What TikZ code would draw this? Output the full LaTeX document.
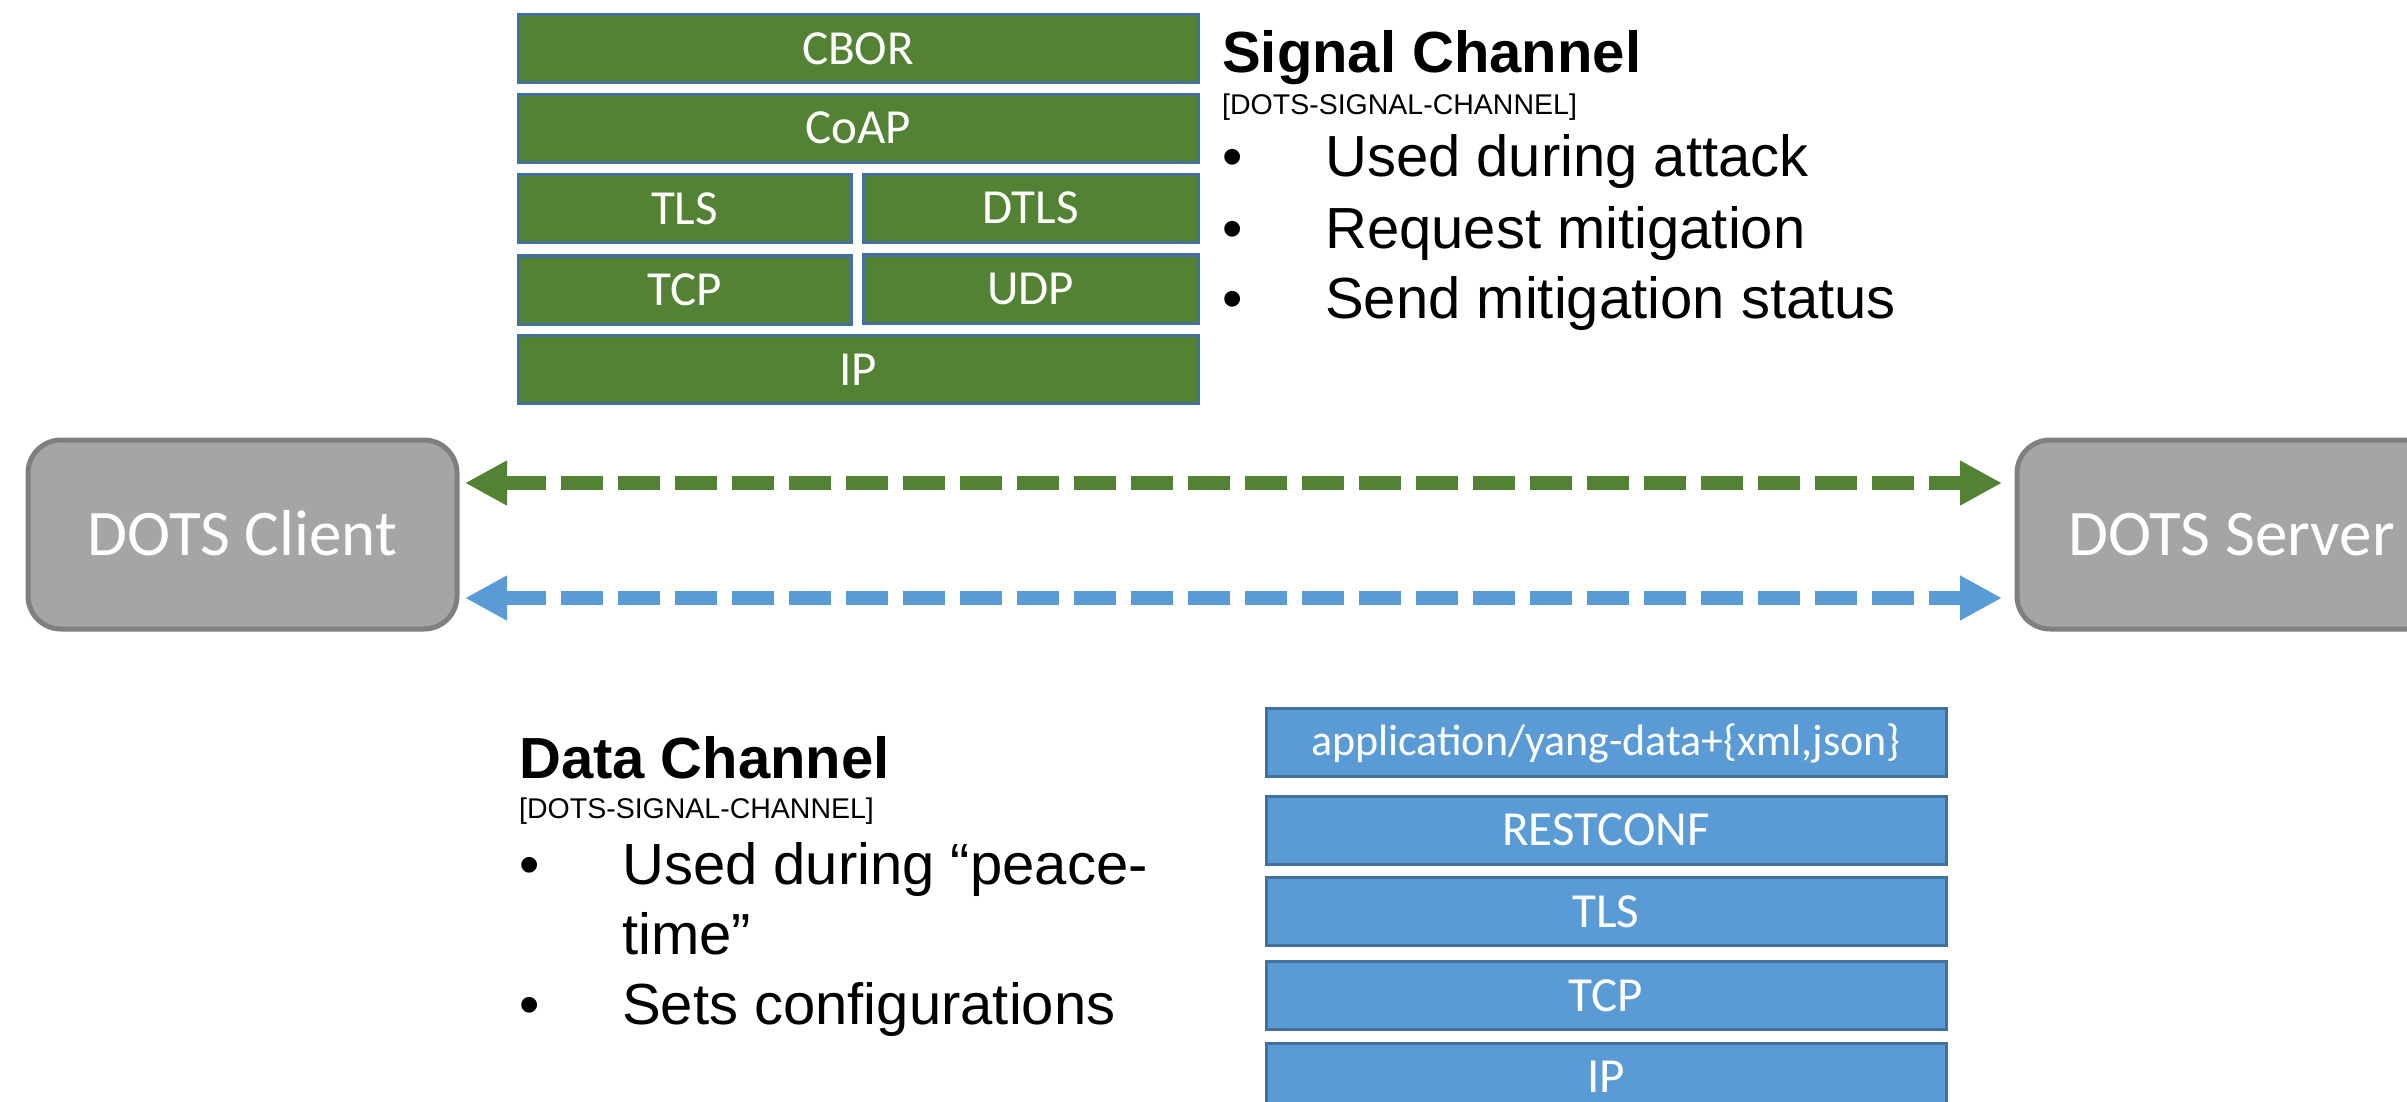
\documentclass[tikz,border=0pt]{standalone}
\usepackage{fontspec}
\setmainfont{Liberation Sans}
\newfontfamily\boxfont{Carlito}
\usetikzlibrary{arrows.meta}
\definecolor{sgreen}{HTML}{548235}
\definecolor{sblue}{HTML}{5B9BD5}
\definecolor{sedge}{HTML}{41719C}
\definecolor{dgrey}{HTML}{A5A5A5}
\definecolor{dedge}{HTML}{7F7F7F}
\begin{document}
\begin{tikzpicture}[x=1pt,y=-1pt,
 layer/.style={draw=sedge, line width=3pt, inner sep=0pt, text=white,
   font=\boxfont\fontsize{49}{59}\selectfont, text height=31pt, text depth=0pt,
   minimum height=68pt},
 glayer/.style={layer, fill=sgreen},
 blayer/.style={layer, fill=sblue},
 dotsbox/.style={draw=dedge, fill=dgrey, line width=5pt, rounded corners=33pt,
   minimum width=429pt, minimum height=189pt, text=white, inner sep=0pt,
   font=\boxfont\fontsize{65}{78}\selectfont, text height=41pt, text depth=0pt},
 title/.style={anchor=base west, inner sep=0pt, font=\bfseries\fontsize{58}{70}\selectfont},
 reftext/.style={anchor=base west, inner sep=0pt, font=\fontsize{28.5}{34}\selectfont},
 item/.style={anchor=base west, inner sep=0pt, font=\fontsize{58}{70}\selectfont},
 link/.style={line width=14pt, dash pattern=on 42pt off 15pt,
   {Triangle[length=42pt,width=42pt]}-{Triangle[length=42pt,width=42pt]}}
]
\useasboundingbox (0,0) rectangle (2407,1102);
\clip (0,0) rectangle (2407,1102);

% Signal channel stack
\node[glayer, minimum width=680pt] (cbor) at (858,49) {CBOR};
\node[glayer, minimum width=680pt] (coap) at (858,128.5) {CoAP};
\node[glayer, minimum width=333pt] (tls1) at (684.5,209) {TLS};
\node[glayer, minimum width=335pt] (dtls) at (1030.5,208.5) {DTLS};
\node[glayer, minimum width=333pt] (tcp1) at (684.5,290) {TCP};
\node[glayer, minimum width=335pt] (udp) at (1030.5,289) {UDP};
\node[glayer, minimum width=680pt] (ip1) at (858,369.5) {IP};

% Signal channel text
\node[title] (stitle) at (1222,73) {Signal Channel};
\node[reftext] (sref) at (1222,115) {[DOTS-SIGNAL-CHANNEL]};
\node[item] (sb1) at (1222,177) {•};
\node[item] (st1) at (1325,177) {Used during attack};
\node[item] (sb2) at (1222,248) {•};
\node[item] (st2) at (1325,248) {Request mitigation};
\node[item] (sb3) at (1222,318) {•};
\node[item] (st3) at (1325,318) {Send mitigation status};

% DOTS endpoints
\node[dotsbox] (client) at (242.5,534.5) {DOTS Client};
\node[dotsbox] (server) at (2231.5,534.5) {DOTS Server};

\draw[link, sgreen, shorten <=5.5pt, shorten >=12.5pt]
  ([yshift=51.5pt]client.east) -- ([yshift=51.5pt]server.west);
\draw[link, sblue, shorten <=5.5pt, shorten >=12.5pt]
  ([yshift=-63.5pt]client.east) -- ([yshift=-63.5pt]server.west);

% Data channel text
\node[title] (dtitle) at (519,778) {Data Channel};
\node[reftext] (dref) at (519,818) {[DOTS-SIGNAL-CHANNEL]};
\node[item] (db1) at (519,884) {•};
\node[item] (dt1) at (622,884) {Used during “peace-};
\node[item] (dt1b) at (622,954) {time”};
\node[item] (db2) at (519,1024) {•};
\node[item] (dt2) at (622,1024) {Sets configurations};

% Data channel stack
\node[blayer, minimum width=680pt, font=\boxfont\fontsize{44}{53}\selectfont, text height=27.8pt] (app) at (1606,742) {application/yang-data+\{xml,json\}};
\node[blayer, minimum width=680pt] (rest) at (1606,830) {RESTCONF};
\node[blayer, minimum width=680pt] (tls2) at (1606,911.5) {TLS};
\node[blayer, minimum width=680pt] (tcp2) at (1606,995.5) {TCP};
\node[blayer, minimum width=680pt] (ip2) at (1606,1077) {IP};
\end{tikzpicture}
\end{document}
